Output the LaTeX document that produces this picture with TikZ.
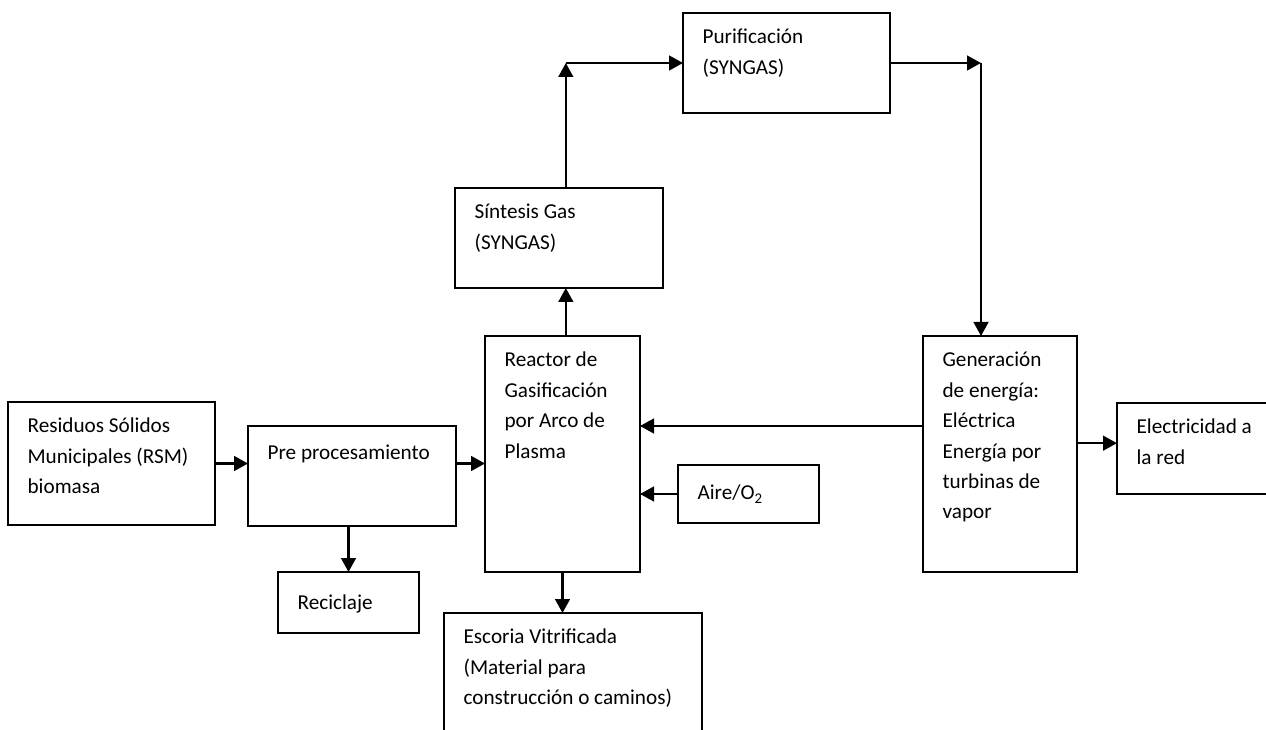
\documentclass[tikz,border=0pt]{standalone}
\usepackage{fontspec}
\setmainfont{Carlito}
\usetikzlibrary{arrows.meta}
\begin{document}
\fontsize{15.9pt}{22.8pt}\selectfont
\begin{tikzpicture}
[x=0.75pt,y=-0.75pt,
blk/.style={draw,line width=1.2pt,anchor=north west,inner sep=0pt,outer sep=0pt},
txt/.style={anchor=north west,align=left,inner sep=0pt,xshift=14.5pt,yshift=-12pt,execute at begin node=\strut},
arr/.style={line width=1.9pt,-{Triangle[length=10.5pt,width=11pt]}}]
\useasboundingbox (0,0) rectangle (1266,730);
\fill[white] (0,0) rectangle (1266,730);
\clip (0,0) rectangle (1266,730);
\node[blk,minimum width=155.25pt,minimum height=92.25pt,
  label={[txt]north west:{Residuos Sólidos\\Municipales (RSM)\\biomasa}}] (res) at (8,402) {};
\node[blk,minimum width=156pt,minimum height=75pt,
  label={[txt,yshift=3pt]north west:{Pre procesamiento}}] (pre) at (248,426) {};
\node[blk,minimum width=105.75pt,minimum height=45.75pt,
  label={[txt]north west:{Reciclaje}}] (rec) at (278,572) {};
\node[blk,minimum width=116.25pt,minimum height=177pt,
  label={[txt]north west:{Reactor de\\Gasificación\\por Arco de\\Plasma}}] (reac) at (485,336) {};
\node[blk,minimum width=193.5pt,minimum height=97.5pt,
  label={[txt]north west:{Escoria Vitrificada\\(Material para\\construcción o caminos)}}] (esc) at (444,613) {};
\node[blk,minimum width=156pt,minimum height=75pt,
  label={[txt]north west:{Síntesis Gas\\(SYNGAS)}}] (sin) at (455,188) {};
\node[blk,minimum width=155.25pt,minimum height=75pt,
  label={[txt]north west:{Purificación\\(SYNGAS)}}] (pur) at (683,13) {};
\node[blk,minimum width=105.75pt,minimum height=43.5pt,
  label={[txt,yshift=2pt]north west:{Aire/O\textsubscript{2}}}] (air) at (678,465) {};
\node[blk,minimum width=115.5pt,minimum height=177pt,
  label={[txt]north west:{Generación\\de energía:\\Eléctrica\\Energía por\\turbinas de\\vapor}}] (gen) at (923,336) {};
\node[blk,minimum width=120pt,minimum height=68.25pt,
  label={[txt]north west:{Electricidad a\\la red}}] (elec) at (1117,403) {};
\coordinate (c1) at ([xshift=2.5pt]reac.north |- pur.west);
\coordinate (c2) at ([xshift=68.25pt]pur.east);
\coordinate (g1) at ([yshift=21pt]gen.west);
\coordinate (e1) at ([yshift=4pt]elec.west);
\draw[arr] (res.east) -- (res.east -| pre.west);
\draw[arr] (res.east -| pre.east) -- (res.east -| reac.west);
\draw[arr] (rec.north |- pre.south) -- (rec.north);
\draw[arr] (reac.south) -- (reac.south |- esc.north);
\draw[arr] (c1 |- reac.north) -- (c1 |- sin.south);
\draw[arr] (c1 |- sin.north) -- (c1);
\draw[arr] (c1) -- (pur.west);
\draw[arr] (pur.east) -- (c2);
\draw[arr] (c2) -- (c2 |- gen.north);
\draw[arr] (g1) -- (g1 -| reac.east);
\draw[arr] (air.west) -- (air.west -| reac.east);
\draw[arr] (e1 -| gen.east) -- (e1);
\end{tikzpicture}
\end{document}
